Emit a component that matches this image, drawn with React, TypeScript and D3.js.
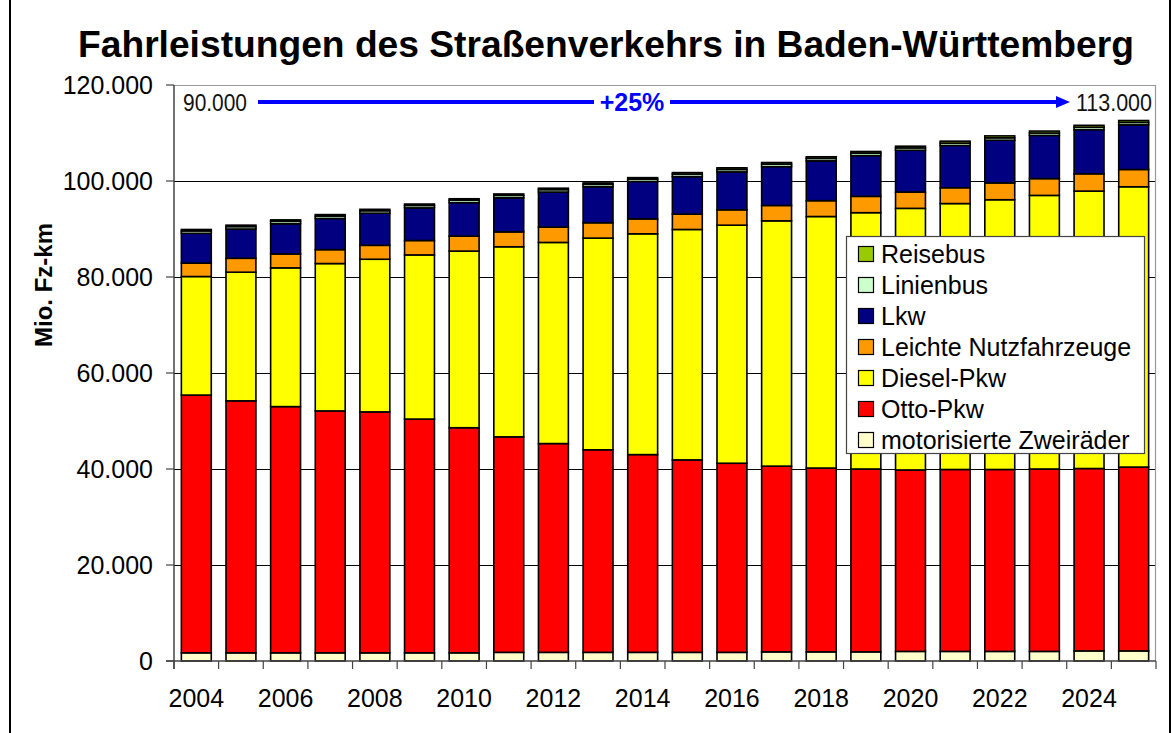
import React, { useEffect, useRef } from 'react';
import * as d3 from 'd3';

// Mio. Fz-km per year
const years = [2004, 2005, 2006, 2007, 2008, 2009, 2010, 2011, 2012, 2013, 2014,
  2015, 2016, 2017, 2018, 2019, 2020, 2021, 2022, 2023, 2024, 2025];

const zweiraeder = [1700, 1700, 1700, 1700, 1700, 1700, 1700, 1800, 1800, 1800, 1800,
  1800, 1800, 1900, 1900, 1900, 2000, 2000, 2000, 2000, 2100, 2100];
const ottoPkw = [53700, 52500, 51300, 50400, 50200, 48700, 46900, 44900, 43500, 42200, 41200,
  40100, 39400, 38700, 38300, 38100, 37800, 37900, 37900, 38000, 38000, 38300];
const dieselPkw = [24700, 26800, 28900, 30700, 31800, 34200, 36800, 39600, 41900, 44100, 46000,
  48000, 49600, 51100, 52400, 53400, 54500, 55400, 56200, 57000, 57800, 58400];
const leichteNfz = [2800, 2900, 2900, 2900, 2900, 3000, 3100, 3100, 3200, 3200, 3100,
  3200, 3200, 3200, 3300, 3400, 3400, 3300, 3500, 3500, 3600, 3600];
const lkw = [6200, 6100, 6300, 6500, 6700, 6800, 7000, 7100, 7300, 7500, 7800,
  7800, 7900, 8100, 8300, 8500, 8700, 8800, 8900, 9000, 9200, 9300];
const linienbus = [500, 500, 500, 500, 500, 500, 500, 500, 500, 500, 500,
  500, 500, 500, 500, 500, 500, 500, 500, 500, 500, 500];
const reisebus = [300, 300, 300, 300, 300, 300, 300, 300, 300, 300, 300,
  350, 350, 350, 350, 350, 350, 400, 400, 400, 400, 400];

const series = [
  { key: 'motorisierte Zweiräder', values: zweiraeder, color: '#FFFFCC' },
  { key: 'Otto-Pkw', values: ottoPkw, color: '#FF0000' },
  { key: 'Diesel-Pkw', values: dieselPkw, color: '#FFFF00' },
  { key: 'Leichte Nutzfahrzeuge', values: leichteNfz, color: '#FF9900' },
  { key: 'Lkw', values: lkw, color: '#000080' },
  { key: 'Linienbus', values: linienbus, color: '#CCFFCC' },
  { key: 'Reisebus', values: reisebus, color: '#99CC00' },
];

const yTicks = [0, 20000, 40000, 60000, 80000, 100000, 120000];
const xLabels = [2004, 2006, 2008, 2010, 2012, 2014, 2016, 2018, 2020, 2022, 2024];

const title = 'Fahrleistungen des Straßenverkehrs in Baden-Württemberg';
const yTitle = 'Mio. Fz-km';
const startLabel = '90.000';
const endLabel = '113.000';
const changeLabel = '+25%';

const FONT = '"Liberation Sans", Arial, sans-serif';

const App = () => {
  const svgRef = useRef<SVGSVGElement>(null);
  const width = 1173;
  const height = 733;

  useEffect(() => {
    const svg = d3.select(svgRef.current);
    svg.selectAll('*').remove();

    const plot = { left: 174, right: 1156, top: 85, bottom: 661 };

    const x = d3.scaleBand<number>()
      .domain(years)
      .range([plot.left, plot.right])
      .paddingInner(0.33)
      .paddingOuter(0.165);
    const y = d3.scaleLinear().domain([0, 120000]).range([plot.bottom, plot.top]);

    const de = d3.formatLocale({ decimal: ',', thousands: '.', grouping: [3], currency: ['', '€'] });
    const fmt = de.format(',');

    // outer chart frame
    svg.append('rect')
      .attr('x', 10).attr('y', -2).attr('width', 1160).attr('height', 760)
      .attr('fill', 'white').attr('stroke', '#000').attr('stroke-width', 2);

    // title
    svg.append('text')
      .attr('x', 606).attr('y', 57)
      .attr('text-anchor', 'middle')
      .attr('font-family', FONT).attr('font-weight', 'bold').attr('font-size', 37.2)
      .text(title);

    // gridlines
    svg.append('g').selectAll('line')
      .data(yTicks.filter(t => t > 0 && t < 120000))
      .enter().append('line')
      .attr('x1', plot.left).attr('x2', plot.right)
      .attr('y1', d => Math.round(y(d)) + 0.5).attr('y2', d => Math.round(y(d)) + 0.5)
      .attr('stroke', '#000').attr('stroke-width', 1);

    // plot border (top / right)
    svg.append('path')
      .attr('d', `M${plot.left},${plot.top + 0.5}H${plot.right - 0.5}V${plot.bottom}`)
      .attr('fill', 'none').attr('stroke', '#999').attr('stroke-width', 1.2);

    // stacked bars
    const table = years.map((yr, i) => {
      const row: any = { year: yr };
      series.forEach(s => { row[s.key] = s.values[i]; });
      return row;
    });
    const stacked = d3.stack().keys(series.map(s => s.key))(table);

    svg.append('g').selectAll('g')
      .data(stacked)
      .enter().append('g')
      .attr('fill', (d, i) => series[i].color)
      .selectAll('rect')
      .data(d => d)
      .enter().append('rect')
      .attr('x', d => x(d.data.year as number)!)
      .attr('width', x.bandwidth())
      .attr('y', d => y(d[1]))
      .attr('height', d => y(d[0]) - y(d[1]))
      .attr('stroke', '#000').attr('stroke-width', 1.6);

    // axes
    const axisColor = '#444';
    svg.append('line')
      .attr('x1', plot.left).attr('x2', plot.left)
      .attr('y1', plot.top).attr('y2', plot.bottom + 8)
      .attr('stroke', axisColor).attr('stroke-width', 1.5);
    svg.append('line')
      .attr('x1', plot.left - 8).attr('x2', plot.right)
      .attr('y1', plot.bottom).attr('y2', plot.bottom)
      .attr('stroke', axisColor).attr('stroke-width', 1.5);

    const yAxis = svg.append('g');
    yTicks.forEach(t => {
      yAxis.append('line')
        .attr('x1', plot.left - 8).attr('x2', plot.left)
        .attr('y1', y(t)).attr('y2', y(t))
        .attr('stroke', axisColor).attr('stroke-width', 1.2);
      yAxis.append('text')
        .attr('x', 153).attr('y', y(t) + 9)
        .attr('text-anchor', 'end')
        .attr('font-family', FONT).attr('font-size', 25)
        .text(fmt(t));
    });

    const step = x.step();
    const gap = step - x.bandwidth();
    const xAxis = svg.append('g');
    years.forEach(yr => {
      const bx = x(yr)! - gap / 2;
      xAxis.append('line')
        .attr('x1', bx).attr('x2', bx)
        .attr('y1', plot.bottom).attr('y2', plot.bottom + 8)
        .attr('stroke', axisColor).attr('stroke-width', 1.2);
    });
    xAxis.append('line')
      .attr('x1', plot.right).attr('x2', plot.right)
      .attr('y1', plot.bottom).attr('y2', plot.bottom + 8)
      .attr('stroke', axisColor).attr('stroke-width', 1.2);
    xLabels.forEach(yr => {
      xAxis.append('text')
        .attr('x', x(yr)! + x.bandwidth() / 2).attr('y', 707)
        .attr('text-anchor', 'middle')
        .attr('font-family', FONT).attr('font-size', 25)
        .text(String(yr));
    });

    // y axis title
    svg.append('text')
      .attr('transform', 'translate(52,285) rotate(-90)')
      .attr('text-anchor', 'middle')
      .attr('font-family', FONT).attr('font-weight', 'bold').attr('font-size', 24)
      .text(yTitle);

    // growth annotation
    const blue = '#0000FF';
    const ay = 102;
    svg.append('text')
      .attr('x', 183).attr('y', 111)
      .attr('font-family', FONT).attr('font-size', 23)
      .attr('textLength', 64).attr('lengthAdjust', 'spacingAndGlyphs')
      .attr('fill', '#111')
      .text(startLabel);
    svg.append('text')
      .attr('x', 1076).attr('y', 111)
      .attr('font-family', FONT).attr('font-size', 23)
      .attr('textLength', 76).attr('lengthAdjust', 'spacingAndGlyphs')
      .attr('fill', '#111')
      .text(endLabel);
    svg.append('line')
      .attr('x1', 258).attr('x2', 594).attr('y1', ay).attr('y2', ay)
      .attr('stroke', blue).attr('stroke-width', 4);
    svg.append('line')
      .attr('x1', 670).attr('x2', 1058).attr('y1', ay).attr('y2', ay)
      .attr('stroke', blue).attr('stroke-width', 4);
    svg.append('path')
      .attr('d', `M1056,${ay - 6}L1070,${ay}L1056,${ay + 6}Z`)
      .attr('fill', blue);
    svg.append('text')
      .attr('x', 632).attr('y', 111)
      .attr('text-anchor', 'middle')
      .attr('font-family', FONT).attr('font-weight', 'bold').attr('font-size', 25)
      .attr('fill', blue)
      .text(changeLabel);

    // legend
    const legend = svg.append('g');
    legend.append('rect')
      .attr('x', 846.5).attr('y', 236.5).attr('width', 298).attr('height', 217)
      .attr('fill', 'white').attr('stroke', '#444').attr('stroke-width', 1.2);
    const legendItems = series.slice().reverse();
    legendItems.forEach((s, i) => {
      const cy = 254 + i * 31;
      legend.append('rect')
        .attr('x', 858.5).attr('y', cy - 7.5).attr('width', 15).attr('height', 15)
        .attr('fill', s.color).attr('stroke', '#000').attr('stroke-width', 1.2);
      legend.append('text')
        .attr('x', 881).attr('y', cy + 8.5)
        .attr('font-family', FONT).attr('font-size', 25)
        .text(s.key);
    });
  }, []);

  return (
    <svg
      ref={svgRef}
      width={width}
      height={height}
      style={{ position: 'absolute', left: 0, top: 0, background: 'white' }}
    />
  );
};

export default App;
